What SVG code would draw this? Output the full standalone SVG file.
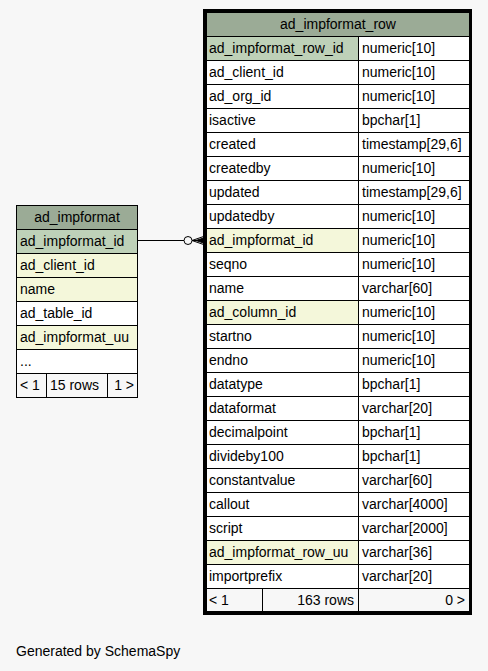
<svg xmlns="http://www.w3.org/2000/svg" width="488" height="671" viewBox="0 0 488 671">
<style>
text{font-family:"Liberation Sans",Arial,sans-serif;font-size:14px;fill:#000}
.c{stroke:#000;stroke-width:1}
.h{fill:#9bab96}
.pk{fill:#bed1b8}
.fk{fill:#f4f7da}
.w{fill:#fff}
.f{fill:#f7f7f7}
.m{text-anchor:middle}
.e{text-anchor:end}
</style>
<rect width="488" height="671" fill="#f7f7f7"/>
<g id="connectors">
<line x1="138" y1="240.5" x2="184" y2="240.5" stroke="#000"/>
<circle cx="188" cy="240.5" r="4" fill="#f7f7f7" stroke="#000"/>
<path d="M192,240.5 L205,236 M192,240.5 L205,240.5 M192,240.5 L205,245 M196,240.5 L205,237.5 L205,243.5 Z" stroke="#000" fill="#000"/>
</g>
<g id="ad_impformat">
<rect class="c h" x="16.5" y="205.5" width="121" height="24"/>
<text class="m" x="77" y="222">ad_impformat</text>
<rect class="c pk" x="16.5" y="229.5" width="121" height="24"/>
<text x="20" y="246">ad_impformat_id</text>
<rect class="c fk" x="16.5" y="253.5" width="121" height="24"/>
<text x="20" y="270">ad_client_id</text>
<rect class="c fk" x="16.5" y="277.5" width="121" height="24"/>
<text x="20" y="294">name</text>
<rect class="c w" x="16.5" y="301.5" width="121" height="24"/>
<text x="20" y="318">ad_table_id</text>
<rect class="c fk" x="16.5" y="325.5" width="121" height="24"/>
<text x="20" y="342">ad_impformat_uu</text>
<rect class="c w" x="16.5" y="349.5" width="121" height="24"/>
<text x="20" y="366">...</text>
<rect class="c f" x="16.5" y="373.5" width="30" height="24"/>
<rect class="c f" x="46.5" y="373.5" width="61" height="24"/>
<rect class="c f" x="107.5" y="373.5" width="30" height="24"/>
<text x="20" y="390">&lt; 1</text>
<text x="50" y="390">15 rows</text>
<text class="e" x="134" y="390">1 &gt;</text>
</g>
<g id="ad_impformat_row">
<rect x="204.5" y="10.5" width="266" height="603" fill="none" stroke="#000" stroke-width="3"/>
<rect class="c h" x="206.5" y="12.5" width="263" height="24"/>
<text class="m" x="338" y="29">ad_impformat_row</text>
<g>
<rect class="c pk" x="206.5" y="36.5" width="152" height="24"/><rect class="c w" x="358.5" y="36.5" width="111" height="24"/>
<text x="209" y="53">ad_impformat_row_id</text><text x="362" y="53">numeric[10]</text>
<rect class="c w" x="206.5" y="60.5" width="152" height="24"/><rect class="c w" x="358.5" y="60.5" width="111" height="24"/>
<text x="209" y="77">ad_client_id</text><text x="362" y="77">numeric[10]</text>
<rect class="c w" x="206.5" y="84.5" width="152" height="24"/><rect class="c w" x="358.5" y="84.5" width="111" height="24"/>
<text x="209" y="101">ad_org_id</text><text x="362" y="101">numeric[10]</text>
<rect class="c w" x="206.5" y="108.5" width="152" height="24"/><rect class="c w" x="358.5" y="108.5" width="111" height="24"/>
<text x="209" y="125">isactive</text><text x="362" y="125">bpchar[1]</text>
<rect class="c w" x="206.5" y="132.5" width="152" height="24"/><rect class="c w" x="358.5" y="132.5" width="111" height="24"/>
<text x="209" y="149">created</text><text x="362" y="149">timestamp[29,6]</text>
<rect class="c w" x="206.5" y="156.5" width="152" height="24"/><rect class="c w" x="358.5" y="156.5" width="111" height="24"/>
<text x="209" y="173">createdby</text><text x="362" y="173">numeric[10]</text>
<rect class="c w" x="206.5" y="180.5" width="152" height="24"/><rect class="c w" x="358.5" y="180.5" width="111" height="24"/>
<text x="209" y="197">updated</text><text x="362" y="197">timestamp[29,6]</text>
<rect class="c w" x="206.5" y="204.5" width="152" height="24"/><rect class="c w" x="358.5" y="204.5" width="111" height="24"/>
<text x="209" y="221">updatedby</text><text x="362" y="221">numeric[10]</text>
<rect class="c fk" x="206.5" y="228.5" width="152" height="24"/><rect class="c w" x="358.5" y="228.5" width="111" height="24"/>
<text x="209" y="245">ad_impformat_id</text><text x="362" y="245">numeric[10]</text>
<rect class="c w" x="206.5" y="252.5" width="152" height="24"/><rect class="c w" x="358.5" y="252.5" width="111" height="24"/>
<text x="209" y="269">seqno</text><text x="362" y="269">numeric[10]</text>
<rect class="c w" x="206.5" y="276.5" width="152" height="24"/><rect class="c w" x="358.5" y="276.5" width="111" height="24"/>
<text x="209" y="293">name</text><text x="362" y="293">varchar[60]</text>
<rect class="c fk" x="206.5" y="300.5" width="152" height="24"/><rect class="c w" x="358.5" y="300.5" width="111" height="24"/>
<text x="209" y="317">ad_column_id</text><text x="362" y="317">numeric[10]</text>
<rect class="c w" x="206.5" y="324.5" width="152" height="24"/><rect class="c w" x="358.5" y="324.5" width="111" height="24"/>
<text x="209" y="341">startno</text><text x="362" y="341">numeric[10]</text>
<rect class="c w" x="206.5" y="348.5" width="152" height="24"/><rect class="c w" x="358.5" y="348.5" width="111" height="24"/>
<text x="209" y="365">endno</text><text x="362" y="365">numeric[10]</text>
<rect class="c w" x="206.5" y="372.5" width="152" height="24"/><rect class="c w" x="358.5" y="372.5" width="111" height="24"/>
<text x="209" y="389">datatype</text><text x="362" y="389">bpchar[1]</text>
<rect class="c w" x="206.5" y="396.5" width="152" height="24"/><rect class="c w" x="358.5" y="396.5" width="111" height="24"/>
<text x="209" y="413">dataformat</text><text x="362" y="413">varchar[20]</text>
<rect class="c w" x="206.5" y="420.5" width="152" height="24"/><rect class="c w" x="358.5" y="420.5" width="111" height="24"/>
<text x="209" y="437">decimalpoint</text><text x="362" y="437">bpchar[1]</text>
<rect class="c w" x="206.5" y="444.5" width="152" height="24"/><rect class="c w" x="358.5" y="444.5" width="111" height="24"/>
<text x="209" y="461">divideby100</text><text x="362" y="461">bpchar[1]</text>
<rect class="c w" x="206.5" y="468.5" width="152" height="24"/><rect class="c w" x="358.5" y="468.5" width="111" height="24"/>
<text x="209" y="485">constantvalue</text><text x="362" y="485">varchar[60]</text>
<rect class="c w" x="206.5" y="492.5" width="152" height="24"/><rect class="c w" x="358.5" y="492.5" width="111" height="24"/>
<text x="209" y="509">callout</text><text x="362" y="509">varchar[4000]</text>
<rect class="c w" x="206.5" y="516.5" width="152" height="24"/><rect class="c w" x="358.5" y="516.5" width="111" height="24"/>
<text x="209" y="533">script</text><text x="362" y="533">varchar[2000]</text>
<rect class="c fk" x="206.5" y="540.5" width="152" height="24"/><rect class="c w" x="358.5" y="540.5" width="111" height="24"/>
<text x="209" y="557">ad_impformat_row_uu</text><text x="362" y="557">varchar[36]</text>
<rect class="c w" x="206.5" y="564.5" width="152" height="24"/><rect class="c w" x="358.5" y="564.5" width="111" height="24"/>
<text x="209" y="581">importprefix</text><text x="362" y="581">varchar[20]</text>
</g>
<rect class="c f" x="206.5" y="588.5" width="56" height="23"/>
<rect class="c f" x="262.5" y="588.5" width="96" height="23"/>
<rect class="c f" x="358.5" y="588.5" width="111" height="23"/>
<text x="209" y="605">&lt; 1</text>
<text class="e" x="354" y="605">163 rows</text>
<text class="e" x="465" y="605">0 &gt;</text>
</g>
<text x="16" y="656">Generated by SchemaSpy</text>
</svg>
